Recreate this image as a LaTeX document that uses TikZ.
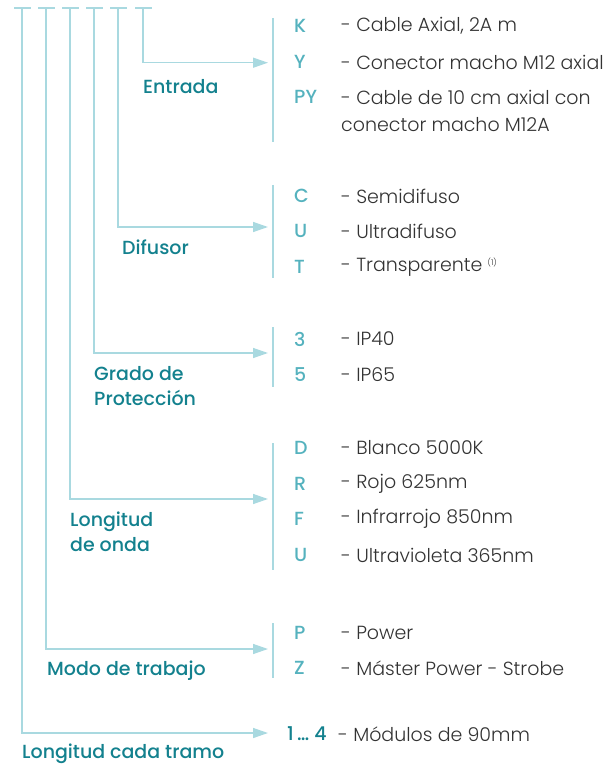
\documentclass[tikz,border=0pt]{standalone}
\usepackage{fontspec}
\setmainfont{Poppins Light}[BoldFont={Poppins Medium}]
\usetikzlibrary{arrows.meta}
\definecolor{linec}{HTML}{A9D9E0}
\definecolor{labc}{HTML}{13818E}
\definecolor{codec}{HTML}{55B2BE}
\definecolor{txtc}{HTML}{333333}
\tikzset{
  conn/.style={draw=linec, line width=1.4pt},
  arr/.style={conn, -{Triangle[length=15pt,width=10pt]}},
  lab/.style={inner sep=0pt, anchor=west, text=labc, font=\bfseries\fontsize{19}{25}\selectfont, align=left},
  code/.style={inner sep=0pt, anchor=west, text=codec, font=\bfseries\fontsize{19}{25}\selectfont},
  desc/.style={inner sep=0pt, anchor=west, text=txtc, font=\fontsize{19}{27}\selectfont, align=left},
}
\begin{document}
\begin{tikzpicture}[x=1pt,y=-1pt]
\useasboundingbox (0,0) rectangle (605,767);
% tops of the verticals
\coordinate (t1) at (22,8);
\coordinate (t2) at (46,8);
\coordinate (t3) at (70,8);
\coordinate (t4) at (94,8);
\coordinate (t5) at (118,8);
\coordinate (t6) at (143,8);
\foreach \i in {1,...,6}{
  \draw[conn] ([xshift=-8pt]t\i) -- ([xshift=9pt]t\i);
}
% arrow targets
\coordinate (a6) at (268,62.7);
\coordinate (a5) at (268,227);
\coordinate (a4) at (268,353);
\coordinate (a3) at (268,499);
\coordinate (a2) at (268,649);
\coordinate (a1) at (268,733);
\foreach \i in {1,...,6}{
  \draw[arr] (t\i) |- (a\i);
}
% brackets
\coordinate (b6s) at (273,18);  \coordinate (b6e) at (273,142);
\coordinate (b5s) at (273,185); \coordinate (b5e) at (273,278);
\coordinate (b4s) at (273,327); \coordinate (b4e) at (273,387);
\coordinate (b3s) at (273,443); \coordinate (b3e) at (273,570);
\coordinate (b2s) at (273,623); \coordinate (b2e) at (273,678);
\foreach \i in {2,...,6}{
  \draw[conn, line width=1.1pt] (b\i s) -- (b\i e);
}
% labels
\node[lab] (lEntrada) at (143,87) {Entrada};
\node[lab] (lDifusor) at (122,247) {Difusor};
\node[lab] (lGrado) at (94,386.5) {Grado de\\Protección};
\node[lab] (lLong) at (70,532) {Longitud\\de onda};
\node[lab] (lModo) at (47,671) {Modo de trabajo};
\node[lab] (lTramo) at (22,754) {Longitud cada tramo};
% group 1
\node[code] (cK) at (294,26) {K};
\node[desc] (dK) at (341,26) {- Cable Axial, 2A m};
\node[code] (cY) at (294,62) {Y};
\node[desc] (dY) at (341,62) {- Conector macho M12 axial};
\node[code] (cPY) at (294,97) {PY};
\node[desc] (dPY) at (341,110.5) {- Cable de 10 cm axial con\\conector macho M12A};
% group 2
\node[code] (cC) at (294,196) {C};
\node[desc] (dC) at (341,196) {- Semidifuso};
\node[code] (cU) at (294,231) {U};
\node[desc] (dU) at (341,231) {- Ultradifuso};
\node[code] (cT) at (294,267) {T};
\node[desc] (dT) at (341,267) {- Transparente \textsuperscript{\fontsize{8}{8}\selectfont(1)}};
% group 3
\node[code] (c3) at (294,339) {3};
\node[desc] (d3) at (341,339) {- IP40};
\node[code] (c5) at (294,375) {5};
\node[desc] (d5) at (341,375) {- IP65};
% group 4
\node[code] (cD) at (294,448) {D};
\node[desc] (dD) at (341,448) {- Blanco 5000K};
\node[code] (cR) at (294,484) {R};
\node[desc] (dR) at (341,484) {- Rojo 625nm};
\node[code] (cF) at (294,519) {F};
\node[desc] (dF) at (341,519) {- Infrarrojo 850nm};
\node[code] (cU2) at (294,555) {U};
\node[desc] (dU2) at (341,555) {- Ultravioleta 365nm};
% group 5
\node[code] (cP) at (294,633) {P};
\node[desc] (dP) at (341,633) {- Power};
\node[code] (cZ) at (294,668) {Z};
\node[desc] (dZ) at (341,668) {- Máster Power - Strobe};
% group 6
\node[code, text=labc] (c14) at (287,734) {1\,…\;4};
\node[desc] (d14) at (338,734) {- Módulos de 90mm};
\end{tikzpicture}
\end{document}
